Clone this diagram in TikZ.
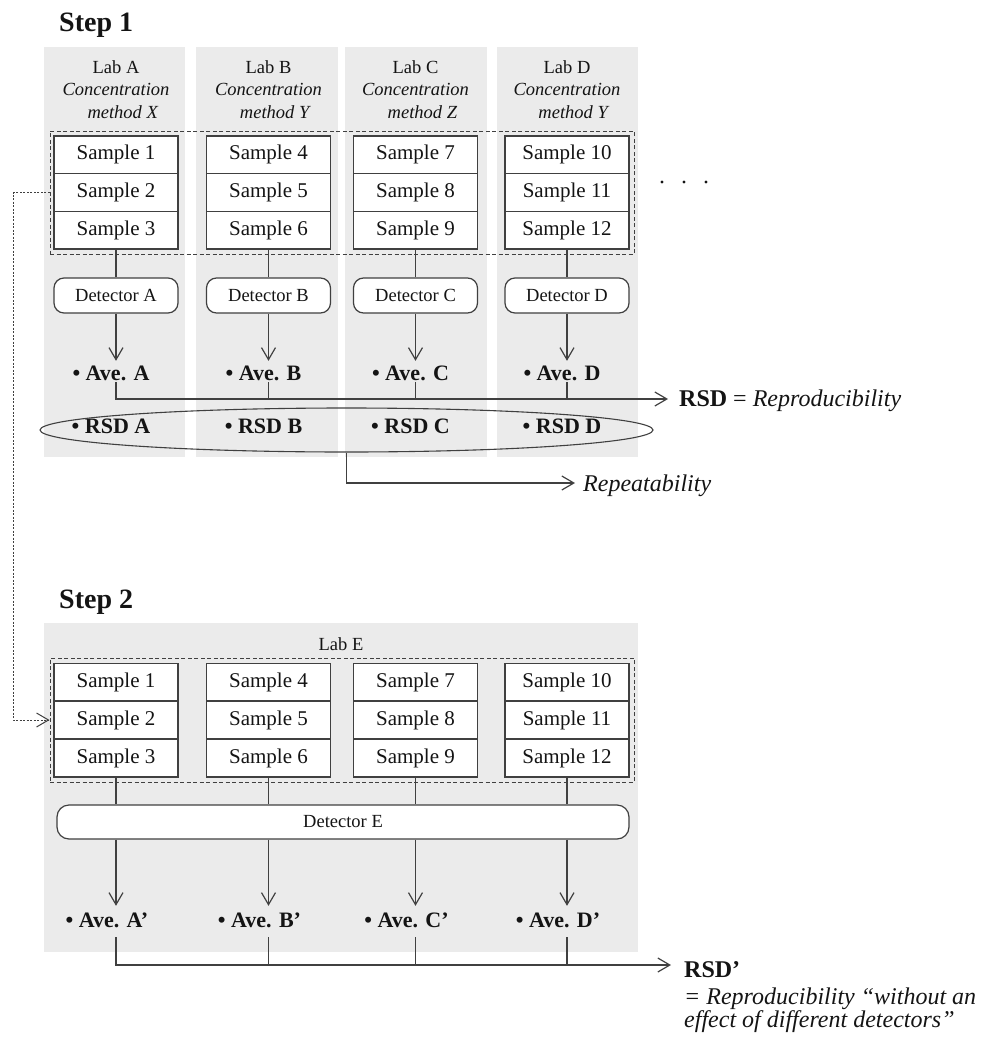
\documentclass[tikz,border=0pt]{standalone}
\usepackage{fontspec}
\setmainfont{Liberation Serif}
\usetikzlibrary{arrows.meta,shapes.geometric}
\definecolor{panelgray}{RGB}{235,235,235}
\definecolor{lncol}{RGB}{64,64,64}
\definecolor{txt}{RGB}{20,20,20}
\newcommand{\myfs}[2]{\fontsize{#1}{#2}\selectfont}
\begin{document}
\begin{tikzpicture}[x=1pt,y=-1pt,
  ln/.style={draw=lncol, line width=1.2pt},
  arr/.style={-{Straight Barb[length=12pt,width=14pt]}},
  samp/.style={draw=lncol, line width=1.3pt, fill=white, minimum width=124pt, minimum height=37.7pt, inner sep=0pt, font=\myfs{21}{21}, text=txt},
  det/.style={draw=lncol, line width=1.2pt, fill=white, rounded corners=10pt, minimum width=124pt, minimum height=35pt, inner sep=0pt, font=\myfs{18.5}{18.5}, text=txt},
  hdr/.style={align=center, font=\myfs{18.5}{22.5}, text=txt, inner sep=0pt},
  ave/.style={anchor=base, font=\myfs{22}{22}\bfseries, text height=17pt, text depth=0pt, inner sep=2pt, text=txt},
  avetwo/.style={ave, text height=19pt, text depth=8pt},
  dbox/.style={draw=lncol, line width=1pt, dash pattern=on 4pt off 2.5pt},
  dconn/.style={draw=lncol, line width=1pt, dash pattern=on 2pt off 1.5pt},
  steplbl/.style={anchor=base west, font=\myfs{28}{28}\bfseries, text=txt, inner sep=0pt},
  biglbl/.style={anchor=base west, font=\myfs{24}{24}, text=txt, inner sep=0pt}
]
\useasboundingbox (0,0) rectangle (988,1041);

% ---------------- Step 1 ----------------
\node[steplbl] (st1) at (59,32) {Step 1};
\fill[panelgray] (44,47) rectangle (185,457);
\fill[panelgray] (196,47) rectangle (338,457);
\fill[panelgray] (345,47) rectangle (487,457);
\fill[panelgray] (497,47) rectangle (638,457);

\node[hdr] (hA) at (116,89.5) {Lab A\\\textit{Concentration}\\\hspace*{14pt}\textit{method X}};
\node[hdr] (hB) at (268.5,89.5) {Lab B\\\textit{Concentration}\\\hspace*{14pt}\textit{method Y}};
\node[hdr] (hC) at (415.5,89.5) {Lab C\\\textit{Concentration}\\\hspace*{14pt}\textit{method Z}};
\node[hdr] (hD) at (567,89.5) {Lab D\\\textit{Concentration}\\\hspace*{14pt}\textit{method Y}};

\node[dbox, minimum width=584pt, minimum height=123pt, inner sep=0pt] (dr1) at (342,192.5) {};

\foreach \c/\x/\n in {A/116/1,B/268.5/4,C/415.5/7,D/567/10}{
  \pgfmathtruncatemacro\nb{\n+1}
  \pgfmathtruncatemacro\nc{\n+2}
  \node[samp] (s\c1) at (\x,154.8) {Sample \n};
  \node[samp] (s\c2) at (\x,192.5) {Sample \nb};
  \node[samp] (s\c3) at (\x,230.2) {Sample \nc};
  \node[det] (d\c) at (\x,295.5) {Detector \c};
  \node[ave] (a\c) at (\x-5,380) {• Ave. \c};
  \node[ave] (r\c) at (\x-5,433) {• RSD \c};
  \draw[ln] (s\c3.south) -- (d\c.north);
  \draw[ln,arr] (d\c.south) -- (d\c.south |- a\c.north);
}

\fill[txt] (662,182) circle (1.6);
\fill[txt] (684,182) circle (1.6);
\fill[txt] (706,182) circle (1.6);

\coordinate (L1) at (0,399);
\coordinate (r1end) at (668,399);
\draw[ln,arr] (aA.south -| dA) |- (r1end);
\foreach \c in {B,C,D}{
  \draw[ln] (a\c.south -| d\c) -- (d\c |- L1);
}
\node[biglbl] (rsd) at (679,406) {\textbf{RSD} = \textit{Reproducibility}};

\node[draw=lncol, line width=1.1pt, ellipse, minimum width=613pt, minimum height=44pt, inner sep=0pt] (ell) at (346.5,430) {};
\coordinate (repend) at (575,483);
\draw[ln,arr] (ell.south) |- (repend);
\node[biglbl] (rep) at (583,491) {\textit{Repeatability}};

% ---------------- Step 2 ----------------
\node[steplbl] (st2) at (59,608) {Step 2};
\fill[panelgray] (44,623) rectangle (638,952);
\node[hdr] (labE) at (341,644) {Lab E};
\node[dbox, minimum width=584pt, minimum height=124pt, inner sep=0pt] (dr2) at (342,720) {};
\node[det, minimum width=572pt, minimum height=34pt, rounded corners=12pt] (dE) at (343,822) {Detector E};

\foreach \c/\x/\n in {A/116/1,B/268.5/4,C/415.5/7,D/567/10}{
  \pgfmathtruncatemacro\nb{\n+1}
  \pgfmathtruncatemacro\nc{\n+2}
  \node[samp] (e\c1) at (\x,682) {Sample \n};
  \node[samp] (e\c2) at (\x,720) {Sample \nb};
  \node[samp] (e\c3) at (\x,758) {Sample \nc};
  \node[avetwo] (ea\c) at (\x-9,927) {• Ave. \c’};
  \draw[ln] (e\c3.south) -- (e\c3.south |- dE.north);
  \draw[ln,arr] (e\c3.south |- dE.south) -- (e\c3.south |- ea\c.north);
}

\coordinate (L2) at (0,965);
\coordinate (r2end) at (671,965);
\draw[ln,arr] (eaA.south -| eA3) |- (r2end);
\foreach \c in {B,C,D}{
  \draw[ln] (ea\c.south -| e\c3) -- (e\c3 |- L2);
}
\node[biglbl] (rsdp) at (684,977) {\textbf{RSD’}};
\node[biglbl] (txt1) at (684,1004) {\textit{= Reproducibility “without an}};
\node[biglbl] (txt2) at (684,1027) {\textit{effect of different detectors”}};

% ---------------- dashed link ----------------
\coordinate (lft) at (13,0);
\draw[dconn,arr] (dr1.west |- sA2) -- (lft |- sA2) -- (lft |- eA2) -- (dr2.west |- eA2);
\end{tikzpicture}
\end{document}
